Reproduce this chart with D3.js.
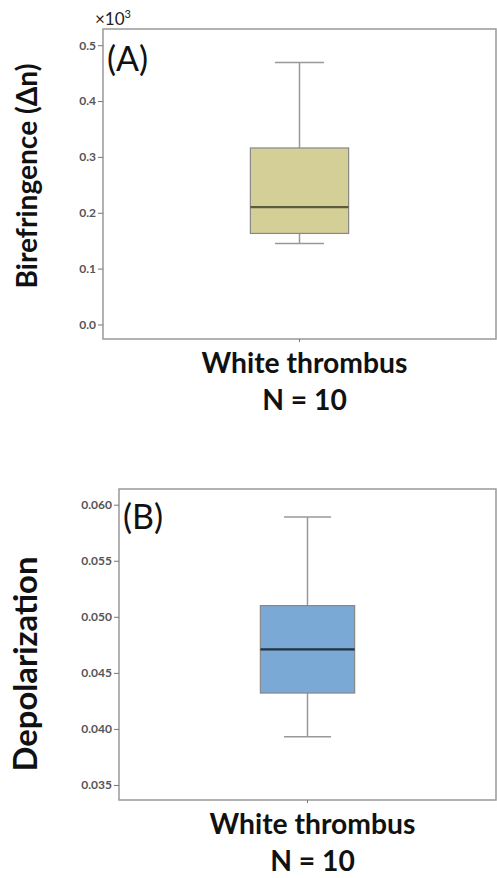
<!DOCTYPE html>
<html>
<head>
<meta charset="utf-8">
<script src="https://cdn.jsdelivr.net/npm/d3@7"></script>
<style>
  body { margin: 0; background: #fff; }
  svg { display: block; font-family: Lato, "Open Sans", sans-serif; }
</style>
</head>
<body>
<div id="chart"></div>
<script>
// data
var groups = ["White thrombus"];
var groupN = ["N = 10"];
// min, q1, median, q3, max
var birefStats = [0.145, 0.163, 0.210, 0.316, 0.469];   // x10^3
var depolStats = [0.0393, 0.0432, 0.0471, 0.0510, 0.0589];
var birefTicks = [0.0, 0.1, 0.2, 0.3, 0.4, 0.5];
var depolTicks = [0.035, 0.040, 0.045, 0.050, 0.055, 0.060];

var svg = d3.select("#chart").append("svg")
  .attr("width", 497)
  .attr("height", 878);

// squeeze / stretch a text so it has the width seen in the picture
function fitText(sel, target) {
  var size = parseFloat(sel.attr("font-size"));
  var len = sel.node().getComputedTextLength();
  sel.attr("font-size", size * target / len);
}

function drawPanel(opt) {
  var g = svg.append("g")
    .attr("transform", "translate(" + opt.left + "," + opt.top + ")");
  var w = opt.width, h = opt.height;

  var x = d3.scaleBand()
    .domain(groups)
    .range([0, w])
    .paddingInner(0)
    .paddingOuter(1.5);

  var y = d3.scaleLinear()
    .domain(opt.domain)
    .range([h, 0]);

  // frame
  g.append("rect")
    .attr("x", 0).attr("y", 0)
    .attr("width", w).attr("height", h)
    .attr("fill", "none")
    .attr("stroke", "#999")
    .attr("stroke-width", 1.5);

  // y axis
  var yAxis = g.append("g")
    .call(d3.axisLeft(y).tickValues(opt.ticks).tickSize(5).tickPadding(2).tickFormat(d3.format(opt.fmt)));
  yAxis.select(".domain").remove();
  yAxis.selectAll(".tick line").attr("stroke", "#777");
  yAxis.selectAll(".tick text")
    .attr("fill", "#555")
    .attr("font-size", 12)
    .attr("font-weight", 700)
    .attr("font-family", "Lato, sans-serif");

  // x tick
  var xAxis = g.append("g")
    .attr("transform", "translate(0," + h + ")")
    .call(d3.axisBottom(x).tickSize(3).tickFormat(""));
  xAxis.select(".domain").remove();
  xAxis.selectAll(".tick line").attr("stroke", "#777");

  // box plot
  var s = opt.stats;
  var cx = x(groups[0]) + x.bandwidth() / 2;
  var bw = x.bandwidth();
  var box = g.append("g");
  box.append("line")
    .attr("x1", cx).attr("x2", cx)
    .attr("y1", y(s[4])).attr("y2", y(s[3]))
    .attr("stroke", "#999").attr("stroke-width", 1.5);
  box.append("line")
    .attr("x1", cx).attr("x2", cx)
    .attr("y1", y(s[1])).attr("y2", y(s[0]))
    .attr("stroke", "#999").attr("stroke-width", 1.5);
  [s[0], s[4]].forEach(function (v) {
    box.append("line")
      .attr("x1", cx - bw / 4).attr("x2", cx + bw / 4)
      .attr("y1", y(v)).attr("y2", y(v))
      .attr("stroke", "#999").attr("stroke-width", 1.5);
  });
  box.append("rect")
    .attr("x", cx - bw / 2)
    .attr("y", y(s[3]))
    .attr("width", bw)
    .attr("height", y(s[1]) - y(s[3]))
    .attr("fill", opt.fill)
    .attr("stroke", "#888")
    .attr("stroke-width", 1.2);
  box.append("line")
    .attr("x1", cx - bw / 2).attr("x2", cx + bw / 2)
    .attr("y1", y(s[2])).attr("y2", y(s[2]))
    .attr("stroke", opt.median).attr("stroke-width", 2.2);

  // panel letter
  g.append("text")
    .attr("x", 4)
    .attr("y", opt.letterY)
    .attr("font-size", 34)
    .attr("fill", "#111")
    .attr("font-family", "Lato, sans-serif")
    .text(opt.letter);

  // y title
  var yt = svg.append("text")
    .attr("transform", "translate(37," + opt.titleY + ") rotate(-90)")
    .attr("text-anchor", "middle")
    .attr("font-size", 22)
    .attr("font-weight", 700)
    .attr("fill", "#111")
    .text(opt.title);
  fitText(yt, opt.titleLen);

  // x labels
  var xl = g.append("text")
    .attr("x", cx + 5)
    .attr("y", h + opt.xLabelDy)
    .attr("text-anchor", "middle")
    .attr("font-size", 22)
    .attr("font-weight", 700)
    .attr("fill", "#111")
    .text(groups[0]);
  fitText(xl, 206);
  var nl = g.append("text")
    .attr("x", cx + 5)
    .attr("y", h + opt.xLabelDy + 37)
    .attr("text-anchor", "middle")
    .attr("font-size", parseFloat(xl.attr("font-size")))
    .attr("font-weight", 700)
    .attr("fill", "#111")
    .text(groupN[0]);

  return g;
}

var gA = drawPanel({
  left: 103, top: 29, width: 393, height: 310,
  domain: [-0.026, 0.529],
  ticks: birefTicks, fmt: ".1f",
  stats: birefStats,
  fill: "#d4cf97", median: "#5c5a3c",
  letter: "(A)", letterY: 42,
  title: "Birefringence (Δn)", titleY: 176, titleLen: 225,
  xLabelDy: 34
});

// exponent label above the axis
gA.append("text")
  .attr("x", -8)
  .attr("y", -4)
  .attr("font-size", 17)
  .attr("fill", "#222")
  .attr("font-family", "Lato, sans-serif")
  .text("×10")
  .append("tspan")
  .attr("dy", -7)
  .attr("font-size", 11)
  .text("3");

drawPanel({
  left: 119, top: 489, width: 377, height: 311,
  domain: [0.03366, 0.0614],
  ticks: depolTicks, fmt: ".3f",
  stats: depolStats,
  fill: "#7aa9d6", median: "#24323f",
  letter: "(B)", letterY: 40,
  title: "Depolarization", titleY: 664, titleLen: 215,
  xLabelDy: 34
});
</script>
</body>
</html>
